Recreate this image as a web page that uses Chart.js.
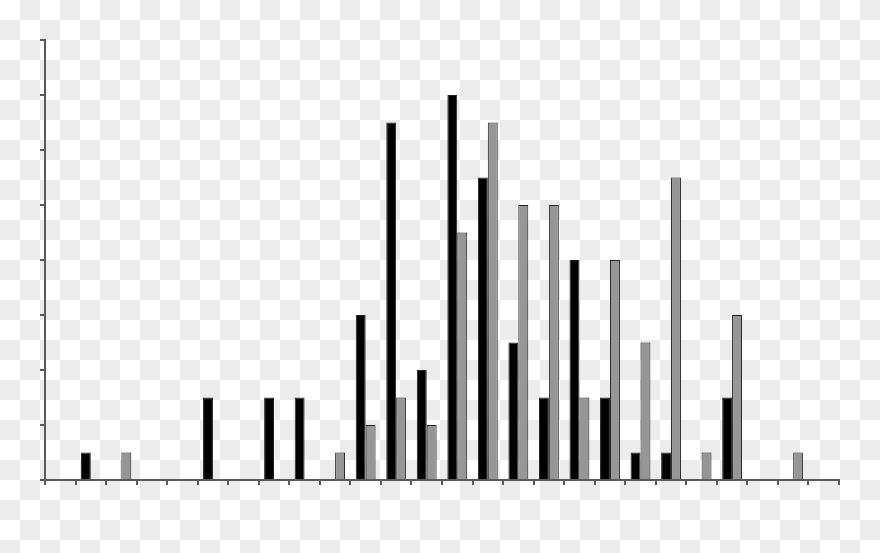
<!DOCTYPE html>
<html lang="en">
<head>
    <meta charset="UTF-8">
    <title>Bar Chart</title>
    <script src="https://cdn.jsdelivr.net/npm/chart.js"></script>
    <style>
        html, body { margin: 0; padding: 0; }
        body {
            width: 880px;
            height: 553px;
            overflow: hidden;
            /* transparent-style checkerboard behind the chart */
            background: repeating-conic-gradient(#ececec 0 25%, #ffffff 0 50%) 0 0 / 40px 40px;
        }
        canvas { display: block; }
    </style>
</head>
<body>
    <canvas id="myChart" width="880" height="553"></canvas>

    <script>
        // 26 categories, labels are not shown in the picture
        const categories = ['1', '2', '3', '4', '5', '6', '7', '8', '9', '10', '11', '12', '13',
                            '14', '15', '16', '17', '18', '19', '20', '21', '22', '23', '24', '25', '26'];

        // black series (left bar in each group)
        const blackValues = [null, 1, null, null, null, 3, null, 3, 3, null, 6, 13, 4,
                             14, 11, 5, 3, 8, 3, 1, 1, null, 3, null, null, null];

        // gray series (right bar in each group)
        const grayValues = [null, null, 1, null, null, null, null, null, null, 1, 2, 3, 2,
                            9, 13, 10, 10, 3, 8, 5, 11, 1, 6, null, 1, null];

        const yMax = 16;
        const yStep = 2;

        const axisColor = '#5a5a5a';

        const ctx = document.getElementById('myChart').getContext('2d');
        new Chart(ctx, {
            type: 'bar',
            data: {
                labels: categories,
                datasets: [
                    {
                        label: 'A',
                        data: blackValues,
                        backgroundColor: '#000000',
                        borderColor: '#222222',
                        borderWidth: 1,
                        categoryPercentage: 0.65,
                        barPercentage: 1.0
                    },
                    {
                        label: 'B',
                        data: grayValues,
                        backgroundColor: '#969696',
                        borderColor: '#222222',
                        borderWidth: 1,
                        categoryPercentage: 0.65,
                        barPercentage: 1.0
                    }
                ]
            },
            options: {
                responsive: false,
                animation: false,
                layout: {
                    padding: { left: 40, top: 40, right: 41, bottom: 68 }
                },
                plugins: {
                    legend: { display: false },
                    tooltip: { enabled: false }
                },
                scales: {
                    x: {
                        grid: {
                            offset: true,
                            drawOnChartArea: false,
                            drawTicks: true,
                            tickLength: 5,
                            color: axisColor,
                            lineWidth: 2
                        },
                        border: { color: axisColor, width: 2 },
                        ticks: { display: false }
                    },
                    y: {
                        min: 0,
                        max: yMax,
                        grid: {
                            drawOnChartArea: false,
                            drawTicks: true,
                            tickLength: 5,
                            color: axisColor,
                            lineWidth: 2
                        },
                        border: { color: axisColor, width: 2 },
                        ticks: { display: false, stepSize: yStep }
                    }
                }
            }
        });
    </script>
</body>
</html>
